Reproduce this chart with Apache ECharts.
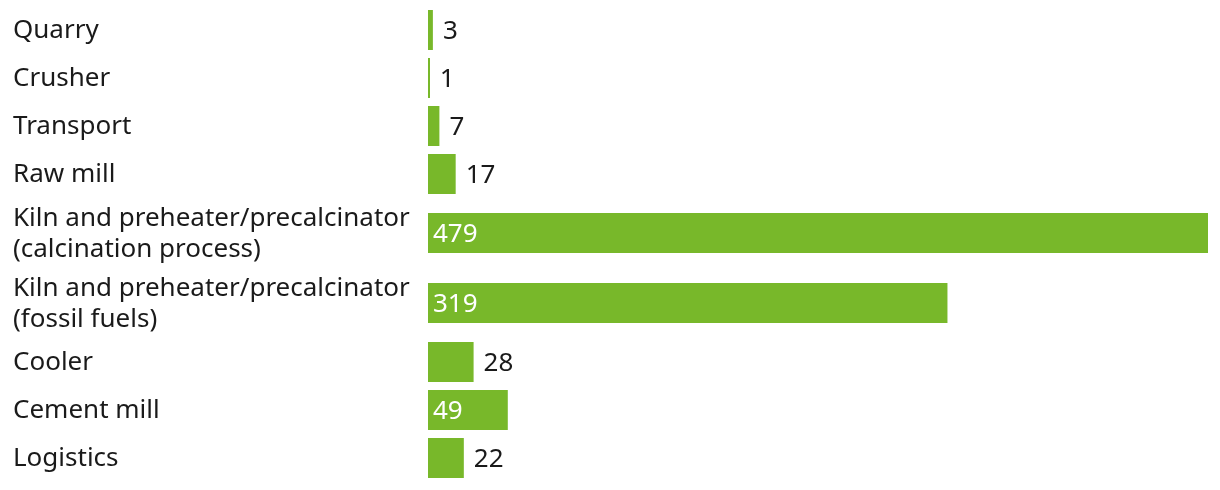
<!DOCTYPE html>
<html>
<head>
<meta charset="utf-8">
<script src="https://cdn.jsdelivr.net/npm/echarts@6/dist/echarts.min.js"></script>
<style>
html,body{margin:0;padding:0;background:#fff;}
#chart{width:1220px;height:490px;}
</style>
</head>
<body>
<div id="chart"></div>
<script>
const categories = [
  'Quarry',
  'Crusher',
  'Transport',
  'Raw mill',
  'Kiln and preheater/precalcinator\n(calcination process)',
  'Kiln and preheater/precalcinator\n(fossil fuels)',
  'Cooler',
  'Cement mill',
  'Logistics'
];
const values = [3, 1, 7, 17, 479, 319, 28, 49, 22];

// layout: row heights depend on label line count
const ROW1 = 48, ROW2 = 70;
const centers = [];
let acc = 0;
categories.forEach(c => {
  const h = c.includes('\n') ? ROW2 : ROW1;
  centers.push(acc + h / 2);
  acc += h;
});
const total = acc;

const GREEN = '#78b82a';
const TEXT = '#1a1a1a';
const FONT = '26px "Noto Sans", "Open Sans", sans-serif';

const chart = echarts.init(document.getElementById('chart'), null, {renderer: 'canvas'});
chart.setOption({
  animation: false,
  grid: {left: 428, right: 12, top: 6, height: total},
  xAxis: {type: 'value', min: 0, max: 479, show: false},
  yAxis: {type: 'value', min: 0, max: total, inverse: true, show: false},
  series: [{
    type: 'custom',
    data: values.map((v, i) => [v, centers[i]]),
    renderItem: (params, api) => {
      const v = api.value(0), y = api.value(1);
      const p0 = api.coord([0, y]);
      const p1 = api.coord([v, y]);
      const h = 40;
      const inside = v >= 40;
      return {
        type: 'group',
        children: [
          {type: 'rect', shape: {x: p0[0], y: p0[1] - h / 2, width: Math.max(p1[0] - p0[0], 2), height: h},
           style: {fill: GREEN}},
          {type: 'text', style: {text: String(v), x: inside ? p0[0] + 5 : p1[0] + 10, y: p0[1] + 2,
            verticalAlign: 'middle', align: 'left', fill: inside ? '#fff' : TEXT, font: FONT}},
          {type: 'text', style: {text: categories[params.dataIndex], x: 13, y: p0[1] + 1,
            verticalAlign: 'middle', align: 'left', fill: TEXT, font: FONT, lineHeight: 31}}
        ]
      };
    }
  }]
});
</script>
</body>
</html>
